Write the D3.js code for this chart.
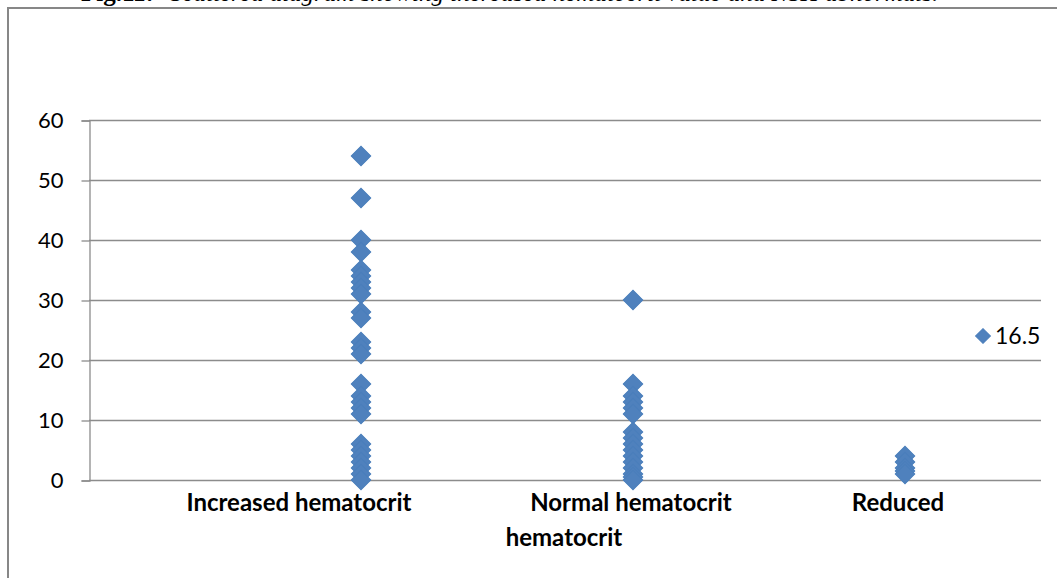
<!DOCTYPE html>
<html>
<head>
<meta charset="utf-8">
<title>Hematocrit scatter</title>
<script src="https://cdn.jsdelivr.net/npm/d3@7"></script>
<style>
  body { margin: 0; background: #fff; }
  svg { display: block; }
</style>
</head>
<body>
<div id="chart"></div>
<script>
// values
var categories = ["Increased hematocrit", "Normal hematocrit", "Reduced"];
var categoryLines = [["Increased hematocrit"], ["Normal hematocrit", "hematocrit"], ["Reduced"]];
var increased = [54, 47, 40, 38, 35, 34, 33, 32, 31, 28, 27, 23, 22, 21, 16, 14, 13, 12, 11, 6, 5, 4, 3, 2, 1, 0];
var normal = [30, 16, 14, 13, 12, 11, 8, 7, 6, 5, 4, 3, 2, 1, 0.5, 0];
var reduced = [4, 3, 2, 1.5, 1];
var yTicks = [0, 10, 20, 30, 40, 50, 60];
var seriesName = "16.5";
var caption = "Scattered diagram showing increased hematocrit value and NSH abnormals.";

var W = 1057, H = 578;
var svg = d3.select("#chart").append("svg")
    .attr("width", W)
    .attr("height", H);

// caption (cut off by the top edge in the original)
var cap = svg.append("text")
    .attr("x", 81)
    .attr("y", 1)
    .style("font-family", "'Liberation Serif', serif")
    .style("font-size", "25px");
cap.append("tspan").style("font-weight", "bold").text("Fig.11:");
cap.append("tspan").attr("dx", 16).style("font-style", "italic").text(caption);

// outer frame, open to the right
svg.append("rect")
    .attr("x", 8).attr("y", 8)
    .attr("width", 1200).attr("height", 700)
    .attr("fill", "none")
    .attr("stroke", "#878787")
    .attr("stroke-width", 2);

var x = d3.scaleLinear().domain([0, 3.5]).range([89, 1041]);
var y = d3.scaleLinear().domain([0, 60]).range([480, 120]);

// gridlines
svg.append("g")
  .selectAll("line")
  .data(yTicks)
  .enter().append("line")
    .attr("x1", x(0)).attr("x2", x(3.5))
    .attr("y1", function (d) { return y(d) + 0.5; })
    .attr("y2", function (d) { return y(d) + 0.5; })
    .attr("stroke", "#8c8c8c")
    .attr("stroke-width", 1.3);

// y axis
var yAxis = d3.axisLeft(y).tickValues(yTicks).tickSize(8).tickPadding(18);
var ya = svg.append("g")
    .attr("transform", "translate(" + (x(0) + 0.5) + ",0.5)")
    .call(yAxis);
ya.select(".domain").attr("stroke", "#8c8c8c").attr("stroke-width", 1.3);
ya.selectAll(".tick line").attr("stroke", "#8c8c8c").attr("stroke-width", 1.3);
ya.selectAll(".tick text")
    .attr("fill", "#000")
    .style("font-family", "Lato, 'Noto Sans', sans-serif")
    .style("font-size", "22px");

// category labels (placed as in the figure)
var lineOffsets = [[-62], [-2, -69], [-7]];
categoryLines.forEach(function (lines, i) {
  lines.forEach(function (t, j) {
    svg.append("text")
        .attr("x", x(i + 1) + lineOffsets[i][j])
        .attr("y", 511 + j * 35)
        .attr("text-anchor", "middle")
        .style("font-family", "Lato, 'Noto Sans', sans-serif")
        .style("font-weight", "bold")
        .style("font-size", "24px")
        .text(t);
  });
});

// points
var points = [];
[increased, normal, reduced].forEach(function (vals, i) {
  vals.forEach(function (v) { points.push({ cat: i + 1, v: v }); });
});

var diamond = d3.symbol().type(d3.symbolSquare).size(190);
svg.append("g")
  .selectAll("path")
  .data(points)
  .enter().append("path")
    .attr("d", diamond)
    .attr("transform", function (d) {
      return "translate(" + x(d.cat) + "," + y(d.v) + ") rotate(45)";
    })
    .attr("fill", "#4f81bd")
    .attr("stroke", "#4a7ebb")
    .attr("stroke-width", 1);

// legend
var lg = svg.append("g").attr("transform", "translate(983,336)");
lg.append("path")
    .attr("d", d3.symbol().type(d3.symbolSquare).size(110))
    .attr("transform", "rotate(45)")
    .attr("fill", "#4f81bd")
    .attr("stroke", "#4a7ebb");
lg.append("text")
    .attr("x", 12)
    .attr("y", 8)
    .style("font-family", "Lato, 'Noto Sans', sans-serif")
    .style("font-size", "23px")
    .text(seriesName);
</script>
</body>
</html>
